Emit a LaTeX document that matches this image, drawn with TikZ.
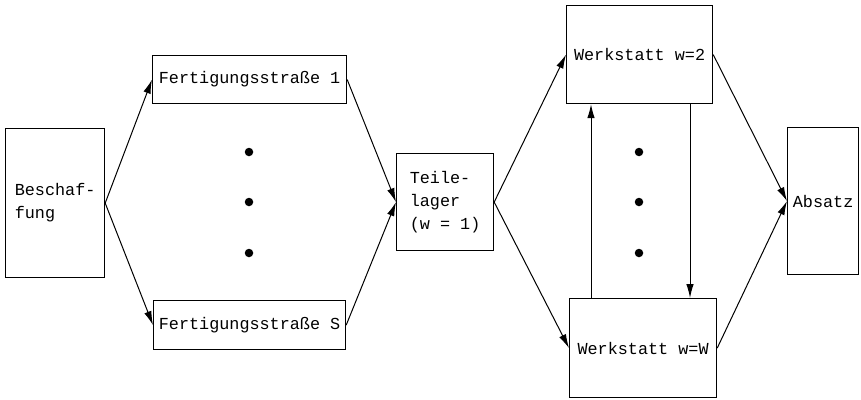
\documentclass[tikz,border=0pt]{standalone}
\usepackage{fontspec}
\setmonofont{Liberation Mono}
\usepackage{tikz}
\usetikzlibrary{positioning,arrows.meta,calc}
\tikzset{
  >={Latex[length=14pt,width=7.5pt]},
  flow/.style={->, line width=1pt, shorten >=0pt},
}

\begin{document}
\begin{tikzpicture}[
  x=1pt, y=-1pt,
  font=\fontsize{16.8}{23}\selectfont\ttfamily,
  box/.style={draw, line width=1.2pt, anchor=north west, inner sep=0pt, align=left},
  punkt/.style={circle, fill=black, inner sep=0pt, minimum size=8.5pt}
]
\useasboundingbox (0,0) rectangle (861,399);

% Beschaffung und Fertigungsstrassen
\node[box, minimum width=99pt, minimum height=149pt] (besch) at (5,128) {Beschaf-\\fung};
\node[box, minimum width=194pt, minimum height=48pt] (fert1) at (152,55) {Fertigungsstraße 1};
\node[box, minimum width=192pt, minimum height=49pt] (ferts) at (153,300) {Fertigungsstraße S};

% Lager, Werkstaetten, Absatz
\node[box, minimum width=97pt, minimum height=97pt] (lager) at (396,153) {Teile-\\lager\\(w = 1)};
\node[box, minimum width=146pt, minimum height=98pt] (w2) at (566,5) {Werkstatt w=2};
\node[box, minimum width=147pt, minimum height=99pt] (wW) at (569,298) {Werkstatt w=W};
\node[box, minimum width=71pt, minimum height=147pt] (absatz) at (787,127) {Absatz};

% Punkte
\foreach \y in {152,202,253} {
  \node[punkt] at (249,\y) {};
  \node[punkt] at (639,\y) {};
}

\coordinate (hoch) at (591,0);
\coordinate (runter) at (690,0);

\draw[flow] (besch.east) -- (fert1.west);
\draw[flow] (besch.east) -- (ferts.west);
\draw[flow] (fert1.east) -- (lager.west);
\draw[flow] (ferts.east) -- (lager.west);
\draw[flow] (lager.east) -- (w2.west);
\draw[flow] (lager.east) -- (wW.west);
\draw[flow] (w2.east) -- (absatz.west);
\draw[flow] (wW.east) -- (absatz.west);
\draw[flow] (hoch |- wW.north) -- (hoch |- w2.south);
\draw[flow] (runter |- w2.south) -- (runter |- wW.north);

\end{tikzpicture}
\end{document}
